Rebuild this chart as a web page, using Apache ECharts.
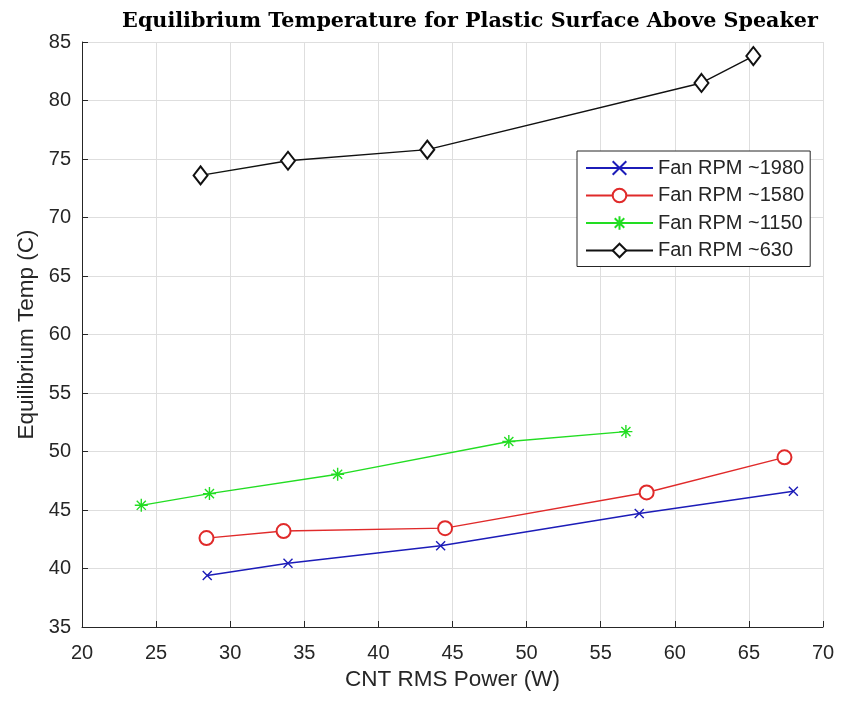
<!DOCTYPE html>
<html>
<head>
<meta charset="utf-8">
<script src="https://cdn.jsdelivr.net/npm/echarts@6/dist/echarts.min.js"></script>
<style>html,body{margin:0;padding:0;background:#fff;}#c{width:841px;height:705px;}</style>
</head>
<body>
<div id="c"></div>
<script>
var xTicks = [20, 25, 30, 35, 40, 45, 50, 55, 60, 65, 70];
var yTicks = [35, 40, 45, 50, 55, 60, 65, 70, 75, 80, 85];
var seriesNames = ['Fan RPM ~1980', 'Fan RPM ~1580', 'Fan RPM ~1150', 'Fan RPM ~630'];
var rpm1980 = [[28.45, 39.4], [33.9, 40.45], [44.2, 41.95], [57.6, 44.7], [68.0, 46.6]];
var rpm1580 = [[28.4, 42.6], [33.6, 43.2], [44.5, 43.45], [58.1, 46.5], [67.4, 49.5]];
var rpm1150 = [[24.0, 45.4], [28.6, 46.4], [37.25, 48.05], [48.8, 50.85], [56.7, 51.7]];
var rpm630 = [[28.0, 73.6], [33.9, 74.85], [43.3, 75.8], [61.8, 81.5], [65.3, 83.8]];

var crossPath = 'path://M0,0L10,10M10,0L0,10';
var starPath = 'path://M5,0L5,10M0,5L10,5M1.5,1.5L8.5,8.5M8.5,1.5L1.5,8.5';

function mk(name, data, color, symbol, size) {
  return {
    name: name, type: 'line', data: data,
    symbol: symbol, symbolSize: size, showAllSymbol: true,
    lineStyle: { color: color, width: 1.4 },
    itemStyle: { color: color, borderColor: color, borderWidth: 1.4 },
    emphasis: { disabled: true },
    z: 3
  };
}

var chart = echarts.init(document.getElementById('c'), null, { renderer: 'canvas' });
chart.setOption({
  animation: false,
  backgroundColor: '#fff',
  title: {
    text: 'Equilibrium Temperature for Plastic Surface Above Speaker',
    left: 465, top: 6, textAlign: 'center',
    textStyle: { fontFamily: 'DejaVu Serif', fontWeight: 'bold', fontSize: 20.7, color: '#000' }
  },
  grid: { left: 82, right: 18, top: 42, bottom: 78, containLabel: false, outerBoundsMode: 'none' },
  legend: {
    data: seriesNames,
    orient: 'vertical', left: 577, top: 151,
    backgroundColor: '#fff', borderColor: '#262626', borderWidth: 1, borderRadius: 0,
    padding: [7, 6, 6, 8],
    itemWidth: 67, itemHeight: 17, itemGap: 7.5,
    textStyle: { fontFamily: 'Liberation Sans', fontSize: 20, lineHeight: 20, color: '#262626' },
    selectedMode: false
  },
  xAxis: {
    type: 'value', min: 20, max: 70, interval: 5,
    name: 'CNT RMS Power (W)', nameLocation: 'middle', nameGap: 41, nameMoveOverlap: false,
    nameTextStyle: { fontFamily: 'Liberation Sans', fontSize: 22.5, color: '#262626' },
    axisLine: { show: true, lineStyle: { color: '#262626', width: 1 } },
    axisTick: { show: true, inside: true, length: 6, lineStyle: { color: '#262626' } },
    axisLabel: { fontFamily: 'Liberation Sans', fontSize: 20, color: '#262626', margin: 16,
      formatter: function (v) { return xTicks.indexOf(v) >= 0 ? String(v) : ''; } },
    splitLine: { show: true, lineStyle: { color: '#dedede', width: 1 } }
  },
  yAxis: {
    type: 'value', min: 35, max: 85, interval: 5,
    name: 'Equilibrium Temp (C)', nameLocation: 'middle', nameGap: 44, nameMoveOverlap: false,
    nameTextStyle: { fontFamily: 'Liberation Sans', fontSize: 22.5, color: '#262626' },
    axisLine: { show: true, lineStyle: { color: '#262626', width: 1 } },
    axisTick: { show: true, inside: true, length: 6, lineStyle: { color: '#262626' } },
    axisLabel: { fontFamily: 'Liberation Sans', fontSize: 20, color: '#262626', margin: 11, align: 'right',
      formatter: function (v) { return yTicks.indexOf(v) >= 0 ? String(v) : ''; } },
    splitLine: { show: true, lineStyle: { color: '#dedede', width: 1 } }
  },
  series: [
    mk(seriesNames[0], rpm1980, '#1c1cb8', crossPath, 9),
    mk(seriesNames[1], rpm1580, '#e02a2a', 'emptyCircle', 14),
    mk(seriesNames[2], rpm1150, '#22dd22', starPath, 13),
    mk(seriesNames[3], rpm630, '#111111', 'emptyDiamond', [14, 18])
  ]
});
</script>
</body>
</html>
